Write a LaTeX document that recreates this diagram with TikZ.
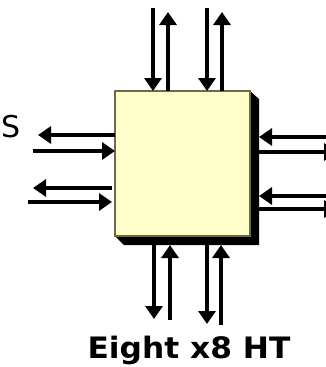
\documentclass[tikz,border=0pt]{standalone}
\usepackage{fontspec}
\setmainfont{DejaVu Sans}
\usetikzlibrary{arrows.meta}
\definecolor{boxfill}{HTML}{FFFFCC}
\definecolor{boxedge}{HTML}{6B6B4A}
\begin{document}
\begin{tikzpicture}[x=1pt,y=-1pt,
  link/.style={line width=4pt,-{Triangle[length=13pt,width=17pt]}},
  every node/.style={inner sep=0pt,outer sep=0pt}]
\useasboundingbox (0,0) rectangle (325,367);
% extruded shadow of the block
\fill[black] (250,91) -- (259,99) -- (259,245) -- (124,245) -- (115,236) -- cycle;
% the block itself
\node[draw=boxedge,line width=2pt,fill=boxfill,minimum width=135pt,minimum height=145pt,anchor=north west] (hub) at (115,91) {};
% link end points
\coordinate (t1) at (153,8);   \coordinate (t2) at (168,12);
\coordinate (t3) at (207,8);   \coordinate (t4) at (222,12);
\coordinate (b1) at (154,319); \coordinate (b2) at (170,320);
\coordinate (b3) at (207,324); \coordinate (b4) at (221,325);
\coordinate (l1) at (38,135);  \coordinate (l2) at (33,151);
\coordinate (l3) at (33,188);  \coordinate (l4) at (28,202);
\coordinate (r1) at (340,137); \coordinate (r2) at (337,152);
\coordinate (r3) at (340,196); \coordinate (r4) at (337,209);
% top links
\draw[link] (t1) -- (t1 |- hub.north);
\draw[link] (t2 |- hub.north) -- (t2);
\draw[link] (t3) -- (t3 |- hub.north);
\draw[link] (t4 |- hub.north) -- (t4);
% bottom links
\draw[link] (b1 |- 0,244) -- (b1);
\draw[link] (b2) -- (b2 |- 0,245);
\draw[link] (b3 |- 0,245) -- (b3);
\draw[link] (b4) -- (b4 |- 0,245);
% left links
\draw[link] (hub.west |- l1) -- (l1);
\draw[link] (l2) -- (hub.west |- l2);
\draw[link] (112,188) -- (l3);
\draw[link] (l4) -- (112,202);
% right links
\draw[link] (r1) -- (259,137);
\draw[link] (259,152) -- (r2);
\draw[link] (r3) -- (259,196);
\draw[link] (259,209) -- (r4);
% labels
\node[anchor=base] (s) at (11,137) {\fontsize{30}{32}\selectfont S};
\node[anchor=base,xscale=1.06] (title) at (189,358) {\fontsize{29.5}{32}\selectfont\bfseries Eight x8 HT};
\end{tikzpicture}
\end{document}
